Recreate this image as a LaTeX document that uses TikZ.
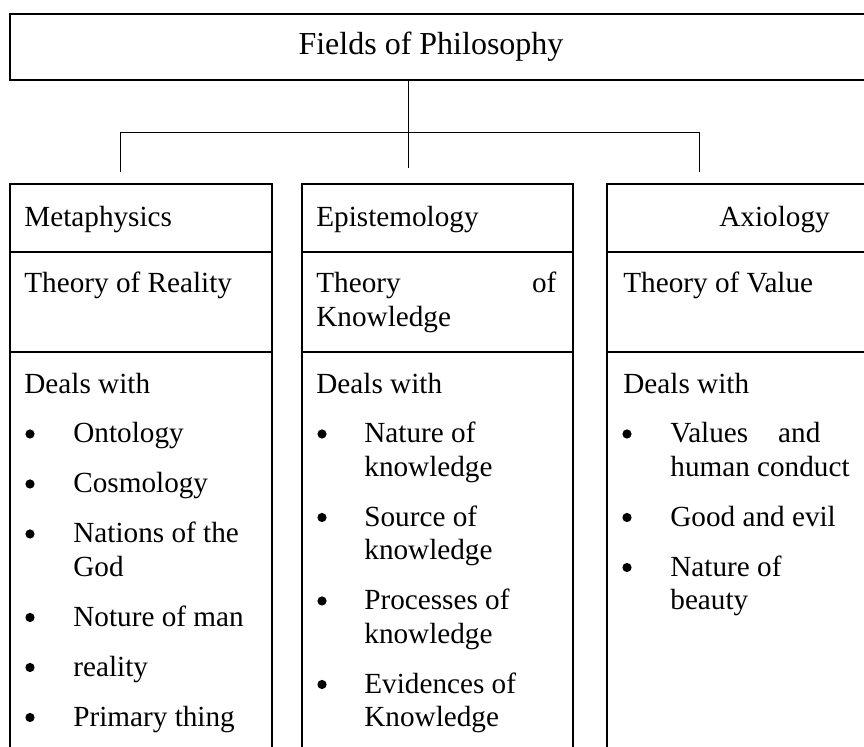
\documentclass[tikz,border=0pt]{standalone}
\usepackage{fontspec}
\setmainfont{Liberation Serif}

\begin{document}
\begin{tikzpicture}[x=0.5pt, y=-0.5pt, font=\fontsize{14.6}{16.75}\selectfont]

    \tikzstyle{cell}=[draw, line width=0.9pt, anchor=north west, inner sep=0pt]
    \tikzstyle{txt}=[anchor=base west, inner sep=0pt, align=left]
    \tikzstyle{item}=[txt, text width=100pt, align=flush left]
    \tikzstyle{dot}=[circle, fill=black, inner sep=0pt, minimum size=4.6pt]
    \tikzstyle{link}=[line width=0.5pt]

    \clip (0,0) rectangle (864,747);

    % top box
    \node[cell, minimum width=440pt, minimum height=33pt] (top) at (9,13) {};
    \node[txt, anchor=base, font=\fontsize{16}{18}\selectfont] (title) at (431,55) {Fields of Philosophy};

    % boxes of the three fields
    \node[cell, minimum width=131pt,   minimum height=34pt]  (metabox)  at (9,183)   {};
    \node[cell, minimum width=131pt,   minimum height=50pt]  (metathe)  at (9,251)   {};
    \node[cell, minimum width=131pt,   minimum height=210pt] (metadeal) at (9,351)   {};
    \node[cell, minimum width=135.5pt, minimum height=34pt]  (episbox)  at (301,183) {};
    \node[cell, minimum width=135.5pt, minimum height=50pt]  (episthe)  at (301,251) {};
    \node[cell, minimum width=135.5pt, minimum height=210pt] (episdeal) at (301,351) {};
    \node[cell, minimum width=137pt,   minimum height=34pt]  (axiobox)  at (606,183) {};
    \node[cell, minimum width=137pt,   minimum height=50pt]  (axiothe)  at (606,251) {};
    \node[cell, minimum width=137pt,   minimum height=210pt] (axiodeal) at (606,351) {};

    % connectors
    \coordinate (hub)   at (408,133);
    \coordinate (tometa) at (120,172);
    \coordinate (toepis) at (408,168);
    \coordinate (toaxio) at (699,172);
    \draw[link] (top.south -| hub) -- (toepis);
    \draw[link] (tometa) -- (tometa |- hub) -- (toaxio |- hub) -- (toaxio);

    % Metaphysics
    \node[txt] (meta)   at (24,227) {Metaphysics};
    \node[txt] (metaT)  at (24,293) {Theory of Reality};
    \node[txt] (metaD)  at (24,394) {Deals with};
    \node[dot] (m1dot)  at (30,434) {};   \node[item] (m1) at (73,443) {Ontology};
    \node[dot] (m2dot)  at (30,484) {};   \node[item] (m2) at (73,493) {Cosmology};
    \node[dot] (m3dot)  at (30,534) {};   \node[item] (m3) at (73,543) {Nations of the\\God};
    \node[dot] (m4dot)  at (30,617.5) {}; \node[item] (m4) at (73,626.5) {Noture of man};
    \node[dot] (m5dot)  at (30,667.5) {}; \node[item] (m5) at (73,676.5) {reality};
    \node[dot] (m6dot)  at (30,717.5) {}; \node[item] (m6) at (73,726.5) {Primary thing};

    % Epistemology
    \node[txt] (epis)   at (316,227) {Epistemology};
    \node[txt, text width=120pt] (episT) at (316,293) {Theory\hfill of\\Knowledge};
    \node[txt] (episD)  at (316,394) {Deals with};
    \node[dot] (e1dot)  at (322,434) {};   \node[item] (e1) at (364,443)   {Nature of\\knowledge};
    \node[dot] (e2dot)  at (322,517.5) {}; \node[item] (e2) at (364,526.5) {Source of\\knowledge};
    \node[dot] (e3dot)  at (322,601) {};   \node[item] (e3) at (364,610)   {Processes of\\knowledge};
    \node[dot] (e4dot)  at (322,684.5) {}; \node[item] (e4) at (364,693.5) {Evidences of\\Knowledge};

    % Axiology
    \node[txt] (axio)   at (719,227) {Axiology};
    \node[txt] (axioT)  at (623,293) {Theory of Value};
    \node[txt] (axioD)  at (623,394) {Deals with};
    \node[dot] (a1dot)  at (627,434) {};   \node[item] (a1) at (670,443)   {\makebox[75pt][s]{Values and}\\human conduct};
    \node[dot] (a2dot)  at (627,517.5) {}; \node[item] (a2) at (670,526.5) {Good and evil};
    \node[dot] (a3dot)  at (627,567.5) {}; \node[item] (a3) at (670,576.5) {Nature of\\beauty};

\end{tikzpicture}
\end{document}
